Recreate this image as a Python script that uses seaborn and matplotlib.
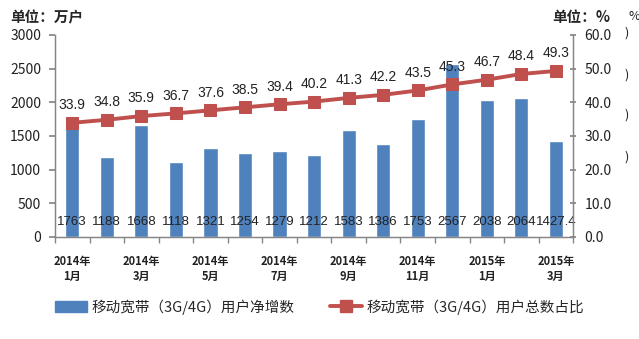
import numpy as np
import pandas as pd
import matplotlib
matplotlib.use("Agg")
import matplotlib.pyplot as plt
import seaborn as sns
from matplotlib.lines import Line2D
from matplotlib.patches import Patch

sns.set_theme(style="white")
plt.rcParams['font.family'] = ['Noto Sans CJK SC', 'DejaVu Sans']

months = ["2014年\n1月", "2014年\n2月", "2014年\n3月", "2014年\n4月", "2014年\n5月",
          "2014年\n6月", "2014年\n7月", "2014年\n8月", "2014年\n9月", "2014年\n10月",
          "2014年\n11月", "2014年\n12月", "2015年\n1月", "2015年\n2月", "2015年\n3月"]
net_adds = [1763, 1188, 1668, 1118, 1321, 1254, 1279, 1212, 1583, 1386, 1753, 2567, 2038, 2064, 1427.4]
net_labels = ["1763", "1188", "1668", "1118", "1321", "1254", "1279", "1212", "1583",
              "1386", "1753", "2567", "2038", "2064", "1427.4"]
share = [33.9, 34.8, 35.9, 36.7, 37.6, 38.5, 39.4, 40.2, 41.3, 42.2, 43.5, 45.3, 46.7, 48.4, 49.3]
left_ticks = [0, 500, 1000, 1500, 2000, 2500, 3000]
right_ticks = [0, 10, 20, 30, 40, 50, 60]
bar_name = "移动宽带（3G/4G）用户净增数"
line_name = "移动宽带（3G/4G）用户总数占比"

bar_color = "#4F81BD"
line_color = "#C0504D"
axis_color = "#868686"
num_font = ["Liberation Sans", "DejaVu Sans"]

df = pd.DataFrame({"month": months, "net": net_adds, "share": share})
df["pos"] = np.arange(len(df))

fig = plt.figure(figsize=(6.39, 3.39), dpi=100)
ax = fig.add_axes([0.086, 0.301, 0.811, 0.596])

sns.barplot(data=df, x="pos", y="net", ax=ax, color=bar_color, width=0.41,
            saturation=1, order=list(df["pos"]))
ax.set_xlim(-0.5, len(df) - 0.5)
ax.set_ylim(0, 3000)
ax.set_yticks(left_ticks)
ax.set_yticklabels([str(t) for t in left_ticks], fontsize=10, color="#222222")
ax.set_xlabel("")
ax.set_ylabel("")

# x ticks: labels under every other bar, tick marks at category boundaries
ax.set_xticks(df["pos"][::2])
ax.set_xticklabels([months[i] for i in range(0, len(months), 2)], fontsize=8,
                   fontweight="bold", color="#222222", linespacing=1.2)
ax.tick_params(axis="x", length=0, pad=13)
ax.set_xticks(np.arange(-0.5, len(df), 1.0), minor=True)
ax.tick_params(axis="x", which="minor", length=4, color=axis_color, direction="out", bottom=True)
ax.tick_params(axis="y", length=4, color=axis_color, direction="out", left=True, pad=6)

for i, lab in enumerate(net_labels):
    ax.text(i, 220, lab, ha="center", va="center", fontsize=9.5, color="#222222",
            family=num_font)

ax2 = ax.twinx()
sns.lineplot(data=df, x="pos", y="share", ax=ax2, color=line_color, linewidth=2.8,
             marker="s", markersize=9, markeredgecolor=line_color, markerfacecolor=line_color)
ax2.set_ylim(0, 60)
ax2.set_yticks(right_ticks)
ax2.set_yticklabels([f"{t:.1f}" for t in right_ticks], fontsize=10, color="#222222")
ax2.set_ylabel("")
ax2.set_xlabel("")
ax2.tick_params(axis="y", length=4, color=axis_color, direction="inout", right=True, pad=6)
ax2.set_xlim(-0.5, len(df) - 0.5)

for i, v in enumerate(share):
    ax2.text(i, v + 3.2, f"{v:.1f}", ha="center", va="bottom", fontsize=10, color="#222222",
             family=num_font)

for a in (ax, ax2):
    a.spines["top"].set_visible(False)
    for s in ["left", "right", "bottom"]:
        a.spines[s].set_color(axis_color)
        a.spines[s].set_linewidth(0.9)

fig.text(0.016, 0.95, "单位：万户", fontsize=10.5, fontweight="bold", ha="left", va="center")
fig.text(0.865, 0.95, "单位：%", fontsize=10.5, fontweight="bold", ha="left", va="center")
fig.text(0.983, 0.95, "%", fontsize=9, ha="left", va="center", color="#222222")
for yy in [0.903, 0.78, 0.66, 0.537]:
    fig.text(0.978, yy, ")", fontsize=9, ha="left", va="center", color="#222222")

handles = [Patch(facecolor=bar_color, edgecolor=bar_color),
           Line2D([0], [0], color=line_color, linewidth=2.8, marker="s", markersize=8)]
fig.legend(handles, [bar_name, line_name], loc="center", bbox_to_anchor=(0.5, 0.095),
           ncol=2, frameon=False, fontsize=10.5, handlelength=2.2, handletextpad=0.3,
           columnspacing=2.4)

fig.savefig("out.png", dpi=100)
